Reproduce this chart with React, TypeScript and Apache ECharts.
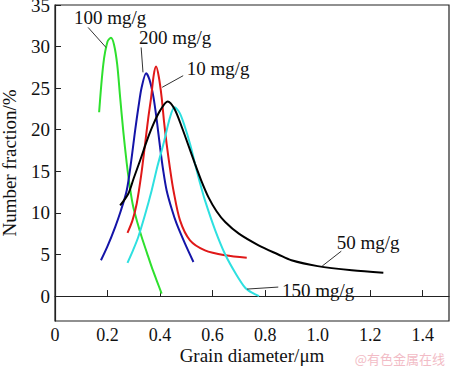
import React, { useEffect, useRef } from "react";
import * as echarts from "echarts";

const FONT = "'Liberation Serif', 'Times New Roman', Times, serif";

const seriesNames = ["100 mg/g", "200 mg/g", "10 mg/g", "50 mg/g", "150 mg/g"];
const seriesColors = ["#2ee02e", "#1414a8", "#e01818", "#000000", "#2ee0e0"];

const green100: number[][] = [
  [0.168, 22.1], [0.184, 27.9], [0.2, 30.6], [0.213, 31.05], [0.225, 30.2], [0.237, 27.8],
  [0.248, 23.9], [0.26, 19.8], [0.273, 16], [0.285, 13.1], [0.298, 10.7], [0.315, 8.7],
  [0.33, 7.1], [0.35, 5.2], [0.368, 3.5], [0.388, 1.8], [0.406, 0.3],
];
const blue200: number[][] = [
  [0.175, 4.3], [0.2, 6.0], [0.229, 8.3], [0.25, 10.2], [0.273, 12.7], [0.29, 16.2],
  [0.305, 19.9], [0.318, 22.8], [0.33, 25.1], [0.347, 26.8], [0.36, 26.0], [0.375, 23.9],
  [0.388, 21], [0.4, 17.9], [0.412, 15.1], [0.425, 12.7], [0.445, 10.4], [0.463, 8.7],
  [0.495, 6.3], [0.527, 4.1],
];
const red10: number[][] = [
  [0.276, 7.6], [0.295, 9.1], [0.311, 11.1], [0.328, 14.5], [0.343, 18.3], [0.355, 21.4],
  [0.366, 23.9], [0.376, 26.6], [0.385, 27.6], [0.395, 26.4], [0.406, 23.9], [0.415, 21],
  [0.425, 18.3], [0.438, 15.3], [0.451, 12.7], [0.476, 9.1], [0.514, 6.7], [0.571, 5.5],
  [0.648, 4.9], [0.73, 4.6],
];
const black50: number[][] = [
  [0.248, 10.9], [0.279, 12.3], [0.3, 14.2], [0.324, 16.3], [0.35, 18.7], [0.375, 20.7],
  [0.4, 22.3], [0.429, 23.4], [0.455, 22.5], [0.483, 20.3], [0.508, 18.1], [0.533, 15.9],
  [0.558, 13.8], [0.584, 11.9], [0.615, 10.2], [0.648, 8.9], [0.7, 7.5], [0.775, 6.1],
  [0.85, 5], [0.9, 4.3], [1.0, 3.6], [1.13, 3.1], [1.25, 2.8],
];
const cyan150: number[][] = [
  [0.276, 4.0], [0.297, 5.5], [0.317, 7.1], [0.343, 9.8], [0.368, 12.7], [0.39, 15.6],
  [0.413, 18.3], [0.438, 21.5], [0.455, 22.7], [0.475, 22.0], [0.495, 20.3], [0.515, 18.2],
  [0.533, 15.9], [0.552, 13.6], [0.571, 11.5], [0.61, 7.9], [0.648, 5.0], [0.69, 2.6],
  [0.724, 1.0], [0.75, 0.4], [0.777, 0],
];
const seriesData = [green100, blue200, red10, black50, cyan150];

const xTicks = [0, 0.2, 0.4, 0.6, 0.8, 1.0, 1.2, 1.4];
const yTicks = [0, 5, 10, 15, 20, 25, 30, 35];

// annotation: label position and leader line (data coordinates)
const labelPos: number[][] = [
  [0.21, 33.5], [0.457, 31.1], [0.621, 27.4], [1.192, 6.5], [1.002, 0.7],
];
const leaderFrom: number[][] = [
  [0.126, 32.3], [0.328, 29.9], [0.488, 26.5], [1.09, 5.4], [0.85, 1.08],
];
const leaderTo: number[][] = [
  [0.194, 29.9], [0.335, 26.9], [0.408, 25.1], [1.017, 3.6], [0.731, 0.84],
];

export default function App() {
  const ref = useRef<HTMLDivElement>(null);
  useEffect(() => {
    if (!ref.current) return;
    const chart = echarts.init(ref.current, null, { renderer: "svg" });
    const axisTextStyle = { color: "#111", fontFamily: FONT, fontSize: 19 };
    const tickTextStyle = { color: "#111", fontFamily: FONT, fontSize: 18 };
    chart.setOption({
      animation: false,
      backgroundColor: "#fff",
      textStyle: { fontFamily: FONT },
      grid: {
        left: 55, right: 1, top: 5, bottom: 45,
        containLabel: false, outerBoundsMode: "none",
        show: true, borderColor: "#222", borderWidth: 1.2, backgroundColor: "transparent",
      },
      xAxis: {
        type: "value", min: 0, max: 1.5,
        name: "Grain diameter/μm", nameLocation: "middle", nameGap: 25,
        nameMoveOverlap: false,
        nameTextStyle: { ...axisTextStyle, verticalAlign: "top" },
        axisLine: { show: true, lineStyle: { color: "#222", width: 1.2 } },
        axisTick: { show: true, inside: true, length: 6, customValues: xTicks, lineStyle: { color: "#222" } },
        axisLabel: {
          ...tickTextStyle, margin: 5, customValues: xTicks,
          formatter: (v: number) => (v === 0 ? "0" : v.toFixed(1)),
        },
        splitLine: { show: false },
      },
      yAxis: {
        type: "value", min: -3, max: 35,
        name: "Number fraction/%", nameLocation: "middle", nameGap: 36,
        nameMoveOverlap: false,
        nameTextStyle: axisTextStyle,
        axisLine: { show: true, lineStyle: { color: "#222", width: 1.2 } },
        axisTick: { show: true, inside: true, length: 6, customValues: yTicks, lineStyle: { color: "#222" } },
        axisLabel: { ...tickTextStyle, fontSize: 19, margin: 5, customValues: yTicks },
        splitLine: { show: false },
      },
      series: seriesData.map((d, i) => ({
        type: "line",
        name: seriesNames[i],
        data: d,
        smooth: 0.3,
        showSymbol: false,
        lineStyle: { color: seriesColors[i], width: 2 },
        z: i === 3 ? 3 : 2,
      })),
    });
    const px = (p: number[]) => chart.convertToPixel({ gridIndex: 0 }, p) as number[];
    const graphics: any[] = [];
    seriesNames.forEach((n, i) => {
      const t = px(labelPos[i]);
      const a = px(leaderFrom[i]);
      const b = px(leaderTo[i]);
      graphics.push({
        type: "line",
        shape: { x1: a[0], y1: a[1], x2: b[0], y2: b[1] },
        style: { stroke: "#333", lineWidth: 1 },
        z: 10,
      });
      graphics.push({
        type: "text",
        x: t[0], y: t[1],
        style: {
          text: n, fill: "#111", fontFamily: FONT, fontSize: 19,
          textAlign: "center", textVerticalAlign: "middle",
        },
        z: 10,
      });
    });
    graphics.push({
      type: "text",
      x: 445, y: 358,
      style: {
        text: "@有色金属在线", fill: "#f2bcc6", fontFamily: "Noto Sans CJK SC", fontSize: 13,
        textAlign: "right", textVerticalAlign: "middle",
      },
      z: 10,
    });
    chart.setOption({ graphic: graphics });
    return () => chart.dispose();
  }, []);
  return <div ref={ref} style={{ width: 450, height: 366, position: "absolute", left: 0, top: 0 }} />;
}
